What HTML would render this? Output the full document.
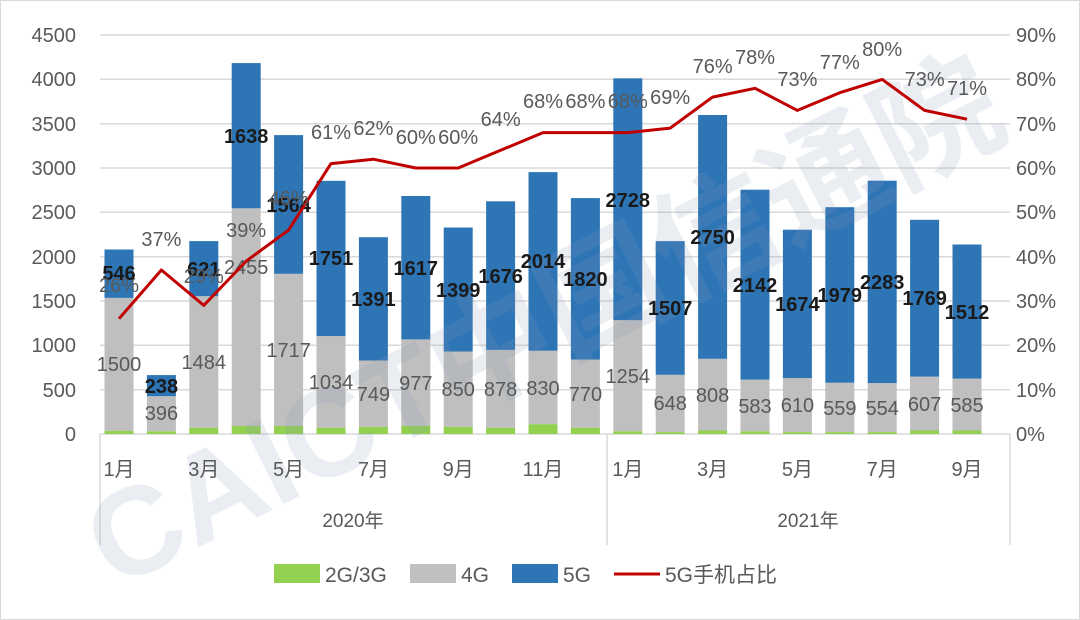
<!DOCTYPE html>
<html><head><meta charset="utf-8"><style>
html,body{margin:0;padding:0;background:#fff}
svg{display:block}
text{font-family:"Liberation Sans","Noto Sans CJK SC",sans-serif}
</style></head><body>
<svg width="1080" height="620" viewBox="0 0 1080 620" xmlns="http://www.w3.org/2000/svg">
<rect x="0.5" y="0.5" width="1079" height="619" fill="#fff" stroke="#d9d9d9"/>
<g stroke="#d9d9d9" stroke-width="1.5">
<line x1="100" y1="35" x2="1010" y2="35"/><line x1="100" y1="79.3" x2="1010" y2="79.3"/><line x1="100" y1="123.7" x2="1010" y2="123.7"/><line x1="100" y1="168" x2="1010" y2="168"/><line x1="100" y1="212.3" x2="1010" y2="212.3"/><line x1="100" y1="256.7" x2="1010" y2="256.7"/><line x1="100" y1="301" x2="1010" y2="301"/><line x1="100" y1="345.3" x2="1010" y2="345.3"/><line x1="100" y1="389.7" x2="1010" y2="389.7"/><line x1="100" y1="434" x2="1010" y2="434"/>
<line x1="100" y1="434" x2="100" y2="545"/><line x1="607" y1="434" x2="607" y2="545"/><line x1="1010" y1="434" x2="1010" y2="545"/>
</g>
<g font-size="20" fill="#595959" text-anchor="end">
<text x="76" y="42">4500</text><text x="76" y="86">4000</text><text x="76" y="131">3500</text><text x="76" y="175">3000</text><text x="76" y="219">2500</text><text x="76" y="264">2000</text><text x="76" y="308">1500</text><text x="76" y="352">1000</text><text x="76" y="397">500</text><text x="76" y="441">0</text>
</g>
<g font-size="20" fill="#595959">
<text x="1016" y="42">90%</text><text x="1016" y="86">80%</text><text x="1016" y="131">70%</text><text x="1016" y="175">60%</text><text x="1016" y="219">50%</text><text x="1016" y="264">40%</text><text x="1016" y="308">30%</text><text x="1016" y="352">20%</text><text x="1016" y="397">10%</text><text x="1016" y="441">0%</text>
</g>
<g>
<rect x="104.5" y="297.9" width="29" height="133" fill="#bfbfbf"/><rect x="104.5" y="249.5" width="29" height="48.4" fill="#2e75b6"/><rect x="104.5" y="430.9" width="29" height="3.1" fill="#92d050"/>
<rect x="146.9" y="396.2" width="29" height="35.1" fill="#bfbfbf"/><rect x="146.9" y="375.1" width="29" height="21.1" fill="#2e75b6"/><rect x="146.9" y="431.3" width="29" height="2.7" fill="#92d050"/>
<rect x="189.3" y="296.2" width="29" height="131.6" fill="#bfbfbf"/><rect x="189.3" y="241.1" width="29" height="55.1" fill="#2e75b6"/><rect x="189.3" y="427.8" width="29" height="6.2" fill="#92d050"/>
<rect x="231.7" y="208.3" width="29" height="217.7" fill="#bfbfbf"/><rect x="231.7" y="63.1" width="29" height="145.2" fill="#2e75b6"/><rect x="231.7" y="426" width="29" height="8" fill="#92d050"/>
<rect x="274.1" y="273.8" width="29" height="152.2" fill="#bfbfbf"/><rect x="274.1" y="135.1" width="29" height="138.7" fill="#2e75b6"/><rect x="274.1" y="426" width="29" height="8" fill="#92d050"/>
<rect x="316.5" y="336.1" width="29" height="91.7" fill="#bfbfbf"/><rect x="316.5" y="180.8" width="29" height="155.3" fill="#2e75b6"/><rect x="316.5" y="427.8" width="29" height="6.2" fill="#92d050"/>
<rect x="358.9" y="360.5" width="29" height="66.4" fill="#bfbfbf"/><rect x="358.9" y="237.2" width="29" height="123.3" fill="#2e75b6"/><rect x="358.9" y="426.9" width="29" height="7.1" fill="#92d050"/>
<rect x="401.3" y="339.4" width="29" height="86.6" fill="#bfbfbf"/><rect x="401.3" y="196" width="29" height="143.4" fill="#2e75b6"/><rect x="401.3" y="426" width="29" height="8" fill="#92d050"/>
<rect x="443.7" y="351.5" width="29" height="75.4" fill="#bfbfbf"/><rect x="443.7" y="227.5" width="29" height="124" fill="#2e75b6"/><rect x="443.7" y="426.9" width="29" height="7.1" fill="#92d050"/>
<rect x="486.1" y="349.9" width="29" height="77.9" fill="#bfbfbf"/><rect x="486.1" y="201.3" width="29" height="148.6" fill="#2e75b6"/><rect x="486.1" y="427.8" width="29" height="6.2" fill="#92d050"/>
<rect x="528.5" y="350.7" width="29" height="73.5" fill="#bfbfbf"/><rect x="528.5" y="172.1" width="29" height="178.6" fill="#2e75b6"/><rect x="528.5" y="424.2" width="29" height="9.8" fill="#92d050"/>
<rect x="570.9" y="359.5" width="29" height="68.3" fill="#bfbfbf"/><rect x="570.9" y="198.1" width="29" height="161.4" fill="#2e75b6"/><rect x="570.9" y="427.8" width="29" height="6.2" fill="#92d050"/>
<rect x="613.3" y="320.2" width="29" height="111.1" fill="#bfbfbf"/><rect x="613.3" y="78.3" width="29" height="241.9" fill="#2e75b6"/><rect x="613.3" y="431.3" width="29" height="2.7" fill="#92d050"/>
<rect x="655.7" y="374.8" width="29" height="57.4" fill="#bfbfbf"/><rect x="655.7" y="241.1" width="29" height="133.7" fill="#2e75b6"/><rect x="655.7" y="432.2" width="29" height="1.8" fill="#92d050"/>
<rect x="698.1" y="358.8" width="29" height="71.7" fill="#bfbfbf"/><rect x="698.1" y="115" width="29" height="243.8" fill="#2e75b6"/><rect x="698.1" y="430.5" width="29" height="3.5" fill="#92d050"/>
<rect x="740.5" y="379.6" width="29" height="51.7" fill="#bfbfbf"/><rect x="740.5" y="189.7" width="29" height="189.9" fill="#2e75b6"/><rect x="740.5" y="431.3" width="29" height="2.7" fill="#92d050"/>
<rect x="782.9" y="378.1" width="29" height="54.1" fill="#bfbfbf"/><rect x="782.9" y="229.7" width="29" height="148.4" fill="#2e75b6"/><rect x="782.9" y="432.2" width="29" height="1.8" fill="#92d050"/>
<rect x="825.3" y="382.7" width="29" height="49.5" fill="#bfbfbf"/><rect x="825.3" y="207.2" width="29" height="175.5" fill="#2e75b6"/><rect x="825.3" y="432.2" width="29" height="1.8" fill="#92d050"/>
<rect x="867.7" y="383.1" width="29" height="49.1" fill="#bfbfbf"/><rect x="867.7" y="180.7" width="29" height="202.4" fill="#2e75b6"/><rect x="867.7" y="432.2" width="29" height="1.8" fill="#92d050"/>
<rect x="910.1" y="376.6" width="29" height="53.9" fill="#bfbfbf"/><rect x="910.1" y="219.8" width="29" height="156.8" fill="#2e75b6"/><rect x="910.1" y="430.5" width="29" height="3.5" fill="#92d050"/>
<rect x="952.5" y="378.6" width="29" height="51.9" fill="#bfbfbf"/><rect x="952.5" y="244.5" width="29" height="134.1" fill="#2e75b6"/><rect x="952.5" y="430.5" width="29" height="3.5" fill="#92d050"/>
</g>
<text x="0" y="0" font-size="125" font-weight="bold" fill="#8a9bb8" fill-opacity="0.18" transform="translate(115,590) rotate(-27)">CAICT中国信通院</text>
<g font-size="20" fill="#595959" text-anchor="middle">
<text x="119" y="371">1500</text><text x="161.4" y="420">396</text><text x="203.8" y="369">1484</text><text x="246.2" y="274">2455</text><text x="288.6" y="357">1717</text><text x="331" y="389">1034</text><text x="373.4" y="401">749</text><text x="415.8" y="390">977</text><text x="458.2" y="396">850</text><text x="500.6" y="396">878</text><text x="543" y="395">830</text><text x="585.4" y="401">770</text>
<text x="627.8" y="383">1254</text><text x="670.2" y="410">648</text><text x="712.6" y="402">808</text><text x="755" y="413">583</text><text x="797.4" y="412">610</text><text x="839.8" y="415">559</text><text x="882.2" y="415">554</text><text x="924.6" y="411">607</text><text x="967" y="412">585</text>
</g>
<g font-size="20" font-weight="bold" fill="#1a1a1a" text-anchor="middle">
<text x="119" y="280">546</text><text x="161.4" y="393">238</text><text x="203.8" y="276">621</text><text x="246.2" y="143">1638</text><text x="288.6" y="212">1564</text><text x="331" y="265">1751</text><text x="373.4" y="306">1391</text><text x="415.8" y="275">1617</text><text x="458.2" y="297">1399</text><text x="500.6" y="283">1676</text><text x="543" y="268">2014</text><text x="585.4" y="286">1820</text>
<text x="627.8" y="207">2728</text><text x="670.2" y="315">1507</text><text x="712.6" y="244">2750</text><text x="755" y="292">2142</text><text x="797.4" y="311">1674</text><text x="839.8" y="302">1979</text><text x="882.2" y="289">2283</text><text x="924.6" y="305">1769</text><text x="967" y="319">1512</text>
</g>
<polyline fill="none" stroke="#c00000" stroke-width="3" stroke-linejoin="round" points="119,318.7 161.4,270 203.8,305.4 246.2,261.1 288.6,230.1 331,163.6 373.4,159.2 415.8,168 458.2,168 500.6,150.3 543,132.6 585.4,132.6 627.8,132.6 670.2,128.1 712.6,97.1 755,88.3 797.4,110.4 839.8,92.7 882.2,79.4 924.6,110.4 967,119.2"/>
<g font-size="20" fill="#595959" text-anchor="middle">
<text x="119" y="292">26%</text><text x="161.4" y="246">37%</text><text x="203.8" y="283">29%</text><text x="246.2" y="237">39%</text><text x="288.6" y="205">46%</text><text x="331" y="139">61%</text><text x="373.4" y="135">62%</text><text x="415.8" y="144">60%</text><text x="458.2" y="144">60%</text><text x="500.6" y="126">64%</text><text x="543" y="108">68%</text><text x="585.4" y="108">68%</text>
<text x="627.8" y="108">68%</text><text x="670.2" y="104">69%</text><text x="712.6" y="73">76%</text><text x="755" y="64">78%</text><text x="797.4" y="86">73%</text><text x="839.8" y="69">77%</text><text x="882.2" y="56">80%</text><text x="924.6" y="86">73%</text><text x="967" y="95">71%</text>
</g>
<g font-size="20" fill="#595959" text-anchor="middle">
<text x="119" y="476">1月</text><text x="203.8" y="476">3月</text><text x="288.6" y="476">5月</text><text x="373.4" y="476">7月</text><text x="458.2" y="476">9月</text><text x="543" y="476">11月</text>
<text x="627.8" y="476">1月</text><text x="712.6" y="476">3月</text><text x="797.4" y="476">5月</text><text x="882.2" y="476">7月</text><text x="967" y="476">9月</text>
<text x="353" y="527" font-size="19">2020年</text><text x="808" y="527" font-size="19">2021年</text>
</g>
<rect x="274" y="564" width="46" height="19" fill="#92d050"/><text x="325" y="582" font-size="21" fill="#595959">2G/3G</text>
<rect x="410" y="564" width="46" height="19" fill="#bfbfbf"/><text x="461" y="582" font-size="21" fill="#595959">4G</text>
<rect x="512" y="564" width="46" height="19" fill="#2e75b6"/><text x="563" y="582" font-size="21" fill="#595959">5G</text>
<line x1="614" y1="574" x2="660" y2="574" stroke="#c00000" stroke-width="3"/><text x="665" y="582" font-size="21" fill="#595959">5G手机占比</text>
</svg>
</body></html>
